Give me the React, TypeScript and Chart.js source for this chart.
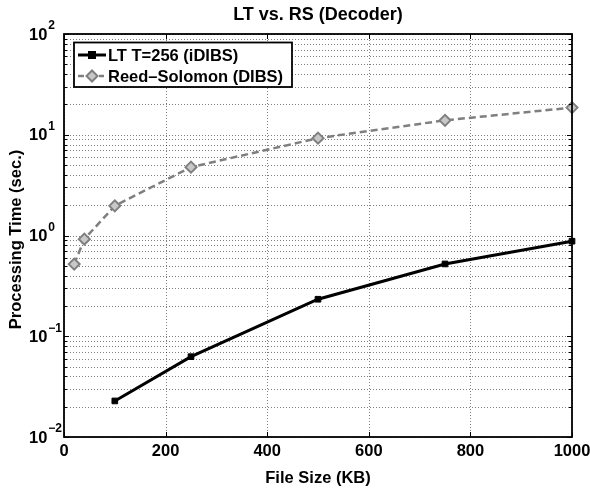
import React, { useEffect, useRef } from "react";
import { Chart, registerables } from "chart.js";

Chart.register(...registerables);

const chartTitle = "LT vs. RS (Decoder)";
const xAxisTitle = "File Size (KB)";
const yAxisTitle = "Processing Time (sec.)";

const ltLabel = "LT T=256 (iDIBS)";
const ltSizes = [100, 250, 500, 750, 1000];
const ltTimes = [0.0228, 0.0627, 0.233, 0.522, 0.878];

const rsLabel = "Reed\u2013Solomon (DIBS)";
const rsSizes = [20, 40, 100, 250, 500, 750, 1000];
const rsTimes = [0.52, 0.92, 1.97, 4.77, 9.25, 13.9, 18.6];

const xTicks = [0, 200, 400, 600, 800, 1000];
const yExponents = [-2, -1, 0, 1, 2];

const FONT = "'Liberation Sans', Arial, Helvetica, sans-serif";
const FS = 16.5;
const TITLE_FS = 18;
const GRID = "rgba(0,0,0,0.5)";
const RS_GRAY = "#7f7f7f";

function logTickValues(): number[] {
  const vals: number[] = [];
  for (let e = yExponents[0]; e < yExponents[yExponents.length - 1]; e++) {
    for (let m = 1; m <= 9; m++) vals.push(Number((m * Math.pow(10, e)).toPrecision(3)));
  }
  vals.push(Math.pow(10, yExponents[yExponents.length - 1]));
  return vals;
}

const gridPlugin = {
  id: "dottedGrid",
  beforeDatasetsDraw(chart: any) {
    const ctx = chart.ctx as CanvasRenderingContext2D;
    const { left, right, top, bottom } = chart.chartArea;
    const xs = chart.scales.x;
    const ys = chart.scales.y;
    ctx.save();
    ctx.strokeStyle = GRID;
    ctx.lineWidth = 1;
    ctx.setLineDash([1, 2]);
    for (const v of xTicks) {
      const px = Math.round(xs.getPixelForValue(v)) + 0.5;
      ctx.beginPath();
      ctx.moveTo(px, top);
      ctx.lineTo(px, bottom);
      ctx.stroke();
    }
    for (const v of logTickValues()) {
      const py = Math.round(ys.getPixelForValue(v)) + 0.5;
      ctx.beginPath();
      ctx.moveTo(left, py);
      ctx.lineTo(right, py);
      ctx.stroke();
    }
    ctx.restore();
  },
};

const decorPlugin = {
  id: "decor",
  afterDraw(chart: any) {
    const ctx = chart.ctx as CanvasRenderingContext2D;
    const { left, right, top, bottom } = chart.chartArea;
    const xs = chart.scales.x;
    const ys = chart.scales.y;
    ctx.save();
    ctx.strokeStyle = "#000";
    ctx.lineWidth = 1;
    ctx.setLineDash([]);
    for (const v of xTicks) {
      const px = Math.round(xs.getPixelForValue(v)) + 0.5;
      ctx.beginPath();
      ctx.moveTo(px, bottom);
      ctx.lineTo(px, bottom - 5);
      ctx.moveTo(px, top);
      ctx.lineTo(px, top + 5);
      ctx.stroke();
    }
    for (const v of logTickValues()) {
      const py = Math.round(ys.getPixelForValue(v)) + 0.5;
      const major = Math.abs(Math.log10(v) - Math.round(Math.log10(v))) < 1e-6;
      const len = major ? 5 : 3;
      ctx.beginPath();
      ctx.moveTo(left, py);
      ctx.lineTo(left + len, py);
      ctx.moveTo(right, py);
      ctx.lineTo(right - len, py);
      ctx.stroke();
    }
    ctx.lineWidth = 1.8;
    ctx.strokeRect(left, top, right - left, bottom - top);

    ctx.fillStyle = "#000";
    ctx.textBaseline = "middle";
    ctx.textAlign = "left";
    for (const e of yExponents) {
      const py = ys.getPixelForValue(Math.pow(10, e));
      ctx.font = `bold ${FS}px ${FONT}`;
      const baseX = 29;
      ctx.fillText("10", baseX, py + 1);
      const w = ctx.measureText("10").width;
      ctx.font = `bold 12px ${FONT}`;
      const expText = e < 0 ? "\u2212" + Math.abs(e) : String(e);
      ctx.fillText(expText, baseX + w + 1, py - 8);
    }

    ctx.font = `bold ${TITLE_FS}px ${FONT}`;
    ctx.textAlign = "center";
    ctx.fillText(chartTitle, (left + right) / 2, 15);

    ctx.font = `bold ${FS}px ${FONT}`;
    ctx.save();
    ctx.translate(16, (top + bottom) / 2 + 4);
    ctx.rotate(-Math.PI / 2);
    ctx.fillText(yAxisTitle, 0, 0);
    ctx.restore();

    const lx = 74, ly = 42.5, lw = 218, lh = 44.5;
    ctx.fillStyle = "#fff";
    ctx.fillRect(lx, ly, lw, lh);
    ctx.strokeStyle = "#000";
    ctx.lineWidth = 1.8;
    ctx.strokeRect(lx, ly, lw, lh);

    const r1 = 55, r2 = 76;
    ctx.strokeStyle = "#000";
    ctx.lineWidth = 3;
    ctx.beginPath();
    ctx.moveTo(78, r1);
    ctx.lineTo(106, r1);
    ctx.stroke();
    ctx.fillStyle = "#000";
    ctx.fillRect(92 - 4, r1 - 4, 8, 8);

    ctx.strokeStyle = RS_GRAY;
    ctx.lineWidth = 2.5;
    ctx.setLineDash([6, 4]);
    ctx.beginPath();
    ctx.moveTo(78, r2);
    ctx.lineTo(106, r2);
    ctx.stroke();
    ctx.setLineDash([]);
    ctx.fillStyle = "#fff";
    ctx.fillRect(85, r2 - 7, 14, 14);
    ctx.beginPath();
    ctx.moveTo(92, r2 - 5.5);
    ctx.lineTo(97.5, r2);
    ctx.lineTo(92, r2 + 5.5);
    ctx.lineTo(86.5, r2);
    ctx.closePath();
    ctx.fillStyle = "#c8c8c8";
    ctx.fill();
    ctx.lineWidth = 2;
    ctx.strokeStyle = RS_GRAY;
    ctx.stroke();

    ctx.fillStyle = "#000";
    ctx.font = `bold ${FS}px ${FONT}`;
    ctx.textAlign = "left";
    ctx.textBaseline = "middle";
    ctx.fillText(ltLabel, 108, r1 + 1);
    ctx.fillText(rsLabel, 108, r2 + 1);
    ctx.restore();
  },
};

export default function App() {
  const ref = useRef<HTMLCanvasElement | null>(null);
  useEffect(() => {
    if (!ref.current) return;
    const chart = new Chart(ref.current, {
      type: "line",
      data: {
        datasets: [
          {
            label: ltLabel,
            data: ltSizes.map((x, i) => ({ x, y: ltTimes[i] })),
            borderColor: "#000",
            backgroundColor: "#000",
            borderWidth: 3,
            pointStyle: "rect",
            pointRadius: 4,
            pointBorderWidth: 1,
            pointBackgroundColor: "#000",
            pointBorderColor: "#000",
            tension: 0,
            clip: false as any,
          },
          {
            label: rsLabel,
            data: rsSizes.map((x, i) => ({ x, y: rsTimes[i] })),
            borderColor: RS_GRAY,
            backgroundColor: RS_GRAY,
            borderWidth: 2.5,
            borderDash: [7, 4],
            pointStyle: "rectRot",
            pointRadius: 5.5,
            pointBorderWidth: 2,
            pointBackgroundColor: "#c8c8c8",
            pointBorderColor: RS_GRAY,
            tension: 0,
            clip: false as any,
          },
        ],
      },
      options: {
        responsive: false,
        animation: false,
        devicePixelRatio: 1,
        layout: { padding: { top: 34, right: 18, left: 0, bottom: 0 } },
        plugins: {
          legend: { display: false },
          title: { display: false },
          tooltip: { enabled: false },
        },
        scales: {
          x: {
            type: "linear",
            min: 0,
            max: 1000,
            afterBuildTicks: (scale: any) => {
              scale.ticks = xTicks.map((v) => ({ value: v }));
            },
            afterFit: (scale: any) => {
              scale.height = 53;
              scale.paddingLeft = 0;
              scale.paddingRight = 0;
            },
            ticks: {
              color: "#000",
              padding: 5,
              maxRotation: 0,
              callback: (v: any) => String(v),
              font: { family: FONT, size: FS, weight: "bold" },
            },
            grid: { display: false, drawTicks: false },
            border: { display: false },
            title: {
              display: true,
              text: xAxisTitle,
              color: "#000",
              font: { family: FONT, size: FS, weight: "bold" },
              padding: { top: 2, bottom: 2 },
            },
          },
          y: {
            type: "logarithmic",
            min: 0.01,
            max: 100,
            afterBuildTicks: (scale: any) => {
              scale.ticks = logTickValues().map((v) => ({ value: v }));
            },
            afterFit: (scale: any) => {
              scale.width = 64;
              scale.paddingTop = 0;
              scale.paddingBottom = 0;
            },
            ticks: {
              callback: () => "",
              font: { family: FONT, size: FS, weight: "bold" },
            },
            grid: { display: false, drawTicks: false },
            border: { display: false },
          },
        },
      } as any,
      plugins: [gridPlugin, decorPlugin],
    });
    return () => chart.destroy();
  }, []);
  return (
    <div style={{ position: "absolute", left: 0, top: 0, width: 590, height: 490, background: "#fff" }}>
      <canvas ref={ref} width={590} height={490} />
    </div>
  );
}
